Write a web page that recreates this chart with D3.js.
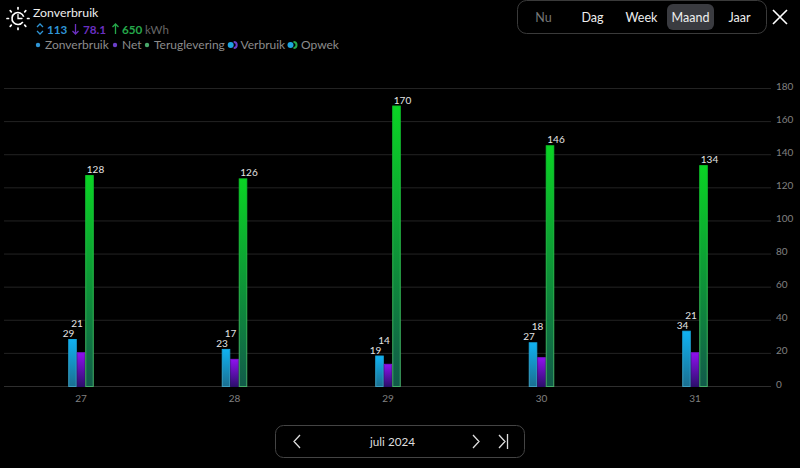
<!DOCTYPE html>
<html><head><meta charset="utf-8">
<script src="https://cdn.jsdelivr.net/npm/d3@7/dist/d3.min.js"></script>
<style>html,body{margin:0;background:#000;overflow:hidden}svg{display:block}text{font-family:Lato,sans-serif}</style>
</head><body><svg id="c" width="800" height="468"></svg>
<script>
const days=["27","28","29","30","31"];
const zonverbruik=[29,23,19,27,34];
const net=[21,17,14,18,21];
const teruglevering=[128,126,170,146,134];
const yTicks=[0,20,40,60,80,100,120,140,160,180];
const legendItems=["Zonverbruik","Net","Teruglevering","Verbruik","Opwek"];
const tabs=["Nu","Dag","Week","Maand","Jaar"];
const totals=["113","78.1","650"];
const seriesKeys=["z","n","t"];
const svg=d3.select("#c");
const defs=svg.append("defs");
function grad(id,top,bot){const g=defs.append("linearGradient").attr("id",id).attr("x1",0).attr("x2",0).attr("y1",0).attr("y2",1);
 g.append("stop").attr("offset",0).attr("stop-color",top);g.append("stop").attr("offset",1).attr("stop-color",bot);}
function strokeGrad(id,top,bot){grad(id,top,bot);}
grad("gz","#10b2f2","#1a6f90");grad("gn","#9010f0","#2c0f6c");grad("gt","#0ad424","#115a4a");
strokeGrad("sz","#14a8e0","#3f9fc0");strokeGrad("sn","#7a12d0","#2c0f6c");strokeGrad("st","#0ac828","#45ad6a");
const x=d3.scaleBand().domain(days).range([4.25,771.75]);
const inner=d3.scaleBand().domain(seriesKeys).range([-12.75,12.75]);
const y=d3.scaleLinear().domain([0,180]).range([386,88]);
svg.append("g").selectAll("line").data(yTicks).join("line")
 .attr("x1",4).attr("x2",771).attr("y1",d=>y(d)+.5).attr("y2",d=>y(d)+.5)
 .attr("stroke",d=>d===0?"#2e2e2e":"#232323");
svg.append("g").selectAll("text").data(yTicks).join("text")
 .attr("x",776).attr("y",d=>y(d)+1.5).attr("fill","#808080").attr("font-size",10).text(d=>d);
svg.append("g").selectAll("text").data(days).join("text")
 .attr("x",d=>x(d)+x.bandwidth()/2).attr("y",402).attr("text-anchor","middle").attr("fill","#808080").attr("font-size",10).text(d=>d);
const series=[{k:"z",v:zonverbruik,f:"url(#gz)",s:"url(#sz)"},{k:"n",v:net,f:"url(#gn)",s:"url(#sn)"},{k:"t",v:teruglevering,f:"url(#gt)",s:"url(#st)"}];
series.forEach(s=>{
 const g=svg.append("g");
 g.selectAll("rect").data(s.v).join("rect")
  .attr("x",(d,i)=>x(days[i])+x.bandwidth()/2+inner(s.k)+.5).attr("width",inner.bandwidth()-1)
  .attr("y",d=>y(d)+1.5).attr("height",d=>y(0)-y(d)-1)
  .attr("fill",s.f).attr("stroke",s.s).attr("stroke-width",1);
 g.selectAll("text").data(s.v).join("text")
  .attr("x",(d,i)=>x(days[i])+x.bandwidth()/2+inner(s.k)+inner.bandwidth()/2+(s.k==="t"?6:-4))
  .attr("y",(d,i)=>s.k==="n"?y(zonverbruik[i])-11:y(d)-1).attr("text-anchor","middle")
  .attr("fill","#e4e4e4").attr("font-size",10).text(d=>d);
});
svg.append("text").attr("x",33).attr("y",17).attr("fill","#eee").attr("font-size",12.3).text("Zonverbruik");
const ic=svg.append("g").attr("transform","translate(18,18.5)").attr("stroke","#fff").attr("fill","none").attr("stroke-linecap","round");
ic.append("path").attr("d",d3.arc()({innerRadius:6,outerRadius:6,startAngle:Math.PI*0.7,endAngle:Math.PI*2.4})).attr("stroke-width",1.6);
ic.append("path").attr("d","M0,-4V0H4").attr("stroke-width",1.3);
d3.range(8).forEach(i=>{const a=i*Math.PI/4;ic.append("line").attr("x1",9.5*Math.cos(a)).attr("y1",9.5*Math.sin(a)).attr("x2",11*Math.cos(a)).attr("y2",11*Math.sin(a)).attr("stroke-width",1.7);});
const tot=svg.append("g").attr("font-size",11.7).attr("font-weight",700);
svg.append("path").attr("d","M37,27L40,24L43,27M37,31L40,34L43,31").attr("stroke","#2f95d6").attr("fill","none").attr("stroke-width",1.3);
tot.append("text").attr("x",47).attr("y",33.5).attr("fill","#2f95d6").text(totals[0]);
svg.append("path").attr("d","M75.5,24V34M72.5,31L75.5,34L78.5,31").attr("stroke","#6a2fc0").attr("fill","none").attr("stroke-width",1.3);
tot.append("text").attr("x",83).attr("y",33.5).attr("fill","#6a2fc0").text(totals[1]);
svg.append("path").attr("d","M115.5,24V34M112.5,27L115.5,24L118.5,27").attr("stroke","#25a84a").attr("fill","none").attr("stroke-width",1.3);
tot.append("text").attr("x",122).attr("y",33.5).attr("fill","#25a84a").text(totals[2]);
svg.append("text").attr("x",145).attr("y",33.5).attr("fill","#666").attr("font-size",11.5).text("kWh");
const lx=[45,122,154,240.5,301],dx=[38,115,147,230.7,290.5],lc=["#2f95d6","#6a3fc8","#4aa86a","#1fa5e0","#1fa5e0"];
legendItems.forEach((t,i)=>{
 svg.append("circle").attr("cx",dx[i]).attr("cy",45).attr("r",i<3?2.2:3).attr("fill",lc[i]);
 if(i>=3)svg.append("path").attr("d",`M${dx[i]+3},42A3,3 0 0 1 ${dx[i]+3},48`).attr("stroke",i===3?"#6a3fc8":"#25a84a").attr("fill","none").attr("stroke-width",2);
 svg.append("text").attr("x",lx[i]).attr("y",49).attr("fill","#8c8c8c").attr("font-size",12).text(t);
});
svg.append("rect").attr("x",517.5).attr("y",.5).attr("width",249).attr("height",33).attr("rx",9).attr("fill","none").attr("stroke","#3a3a3a");
svg.append("rect").attr("x",667).attr("y",4).attr("width",47).attr("height",26).attr("rx",6).attr("fill","#3a3b40");
const tx=[543.5,592.5,641.5,690.5,739.5];
tabs.forEach((t,i)=>svg.append("text").attr("x",tx[i]).attr("y",22).attr("text-anchor","middle").attr("font-size",12.5).attr("fill",i===0?"#777":"#eee").text(t));
svg.append("path").attr("d","M773,10L787,24M787,10L773,24").attr("stroke","#fff").attr("stroke-width",1.6).attr("fill","none");
svg.append("rect").attr("x",275.5).attr("y",425.5).attr("width",249).attr("height",32).attr("rx",8).attr("fill","none").attr("stroke","#444");
svg.append("text").attr("x",392.5).attr("y",446).attr("text-anchor","middle").attr("font-size",11.7).attr("fill","#ddd").text("juli 2024");
svg.append("path").attr("d","M300,435L294,441.5L300,448M473,435L479,441.5L473,448M499,435L505,441.5L499,448M507.5,434V449").attr("stroke","#ddd").attr("stroke-width",1.3).attr("fill","none");
</script></body></html>
